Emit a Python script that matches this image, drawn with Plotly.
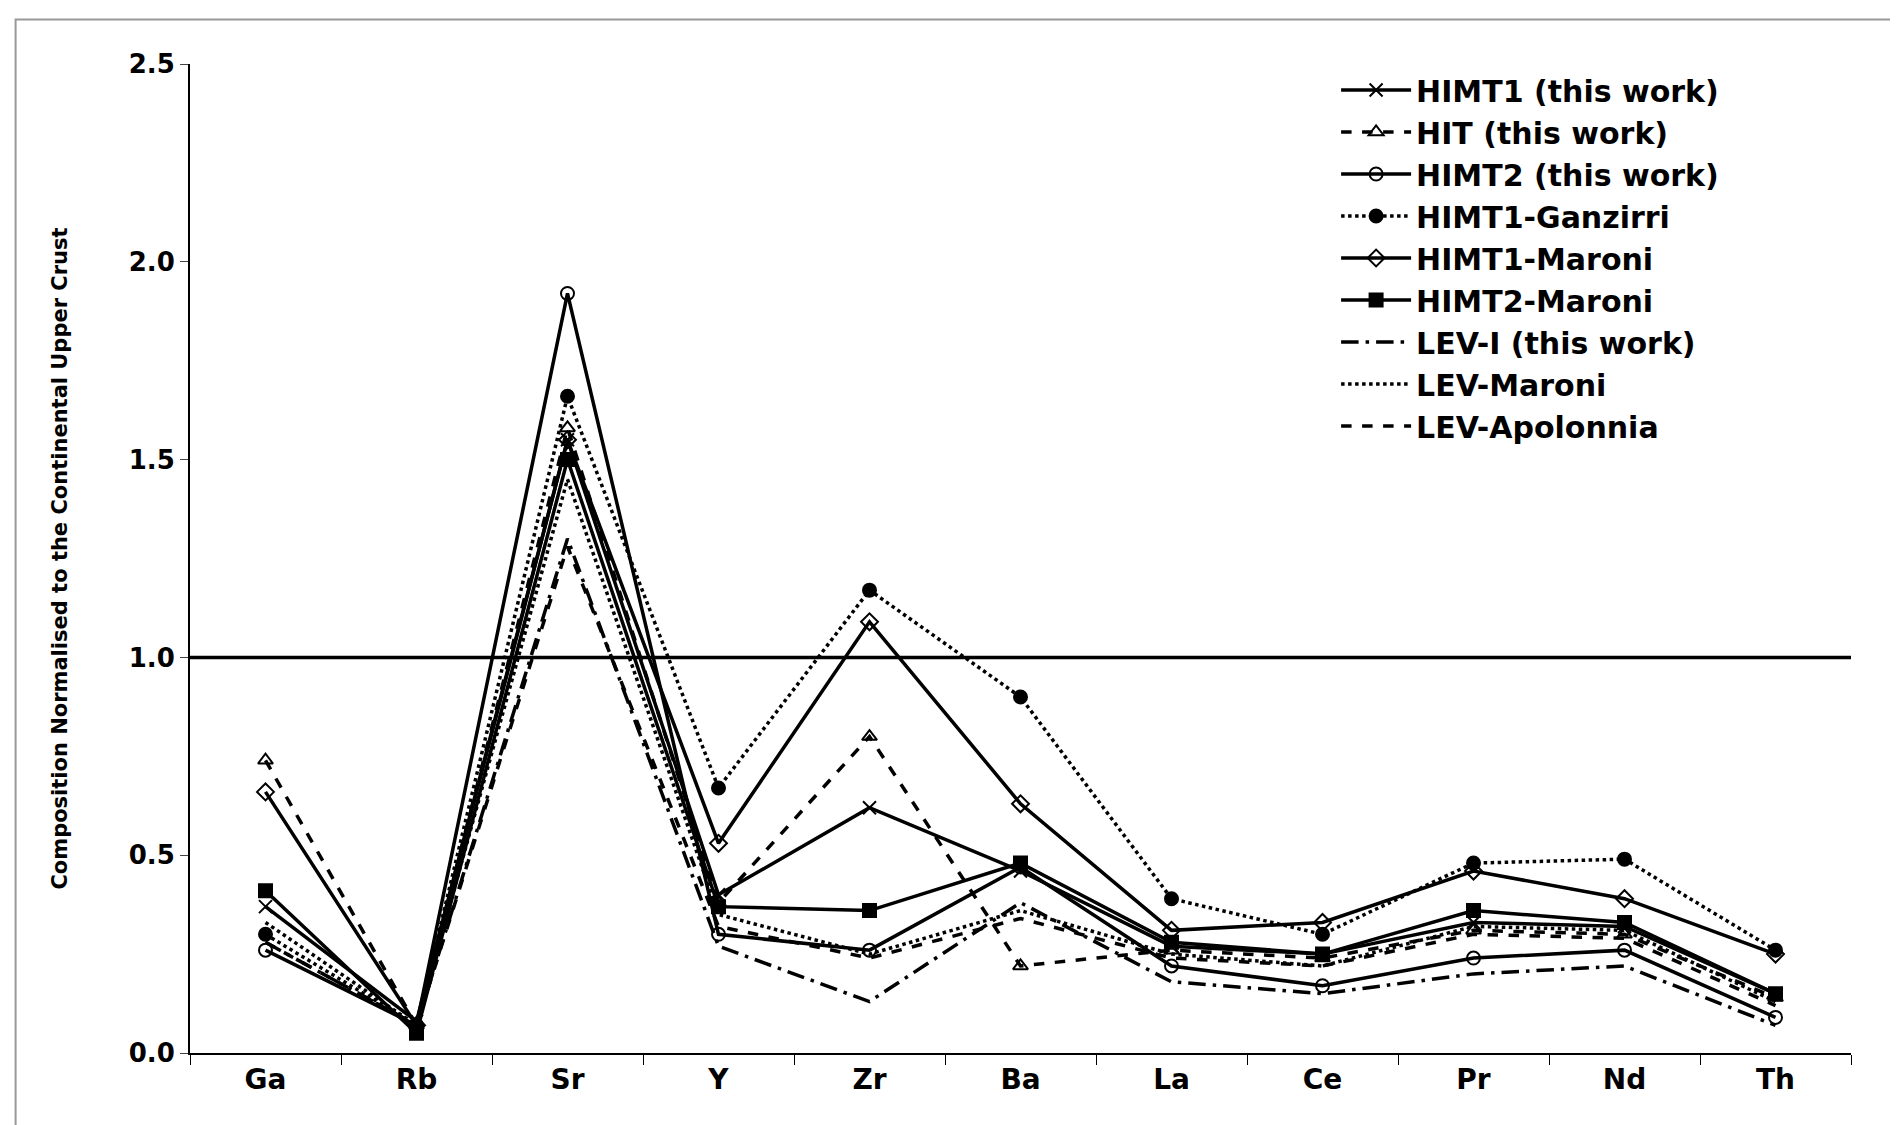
import plotly.graph_objects as go

elements = ["Ga", "Rb", "Sr", "Y", "Zr", "Ba", "La", "Ce", "Pr", "Nd", "Th"]

himt1 = [0.37, 0.08, 1.55, 0.40, 0.62, 0.46, 0.27, 0.25, 0.33, 0.32, 0.15]
hit = [0.74, 0.07, 1.58, 0.38, 0.80, 0.22, 0.26, 0.24, 0.31, 0.30, 0.14]
himt2 = [0.26, 0.07, 1.92, 0.30, 0.26, 0.47, 0.22, 0.17, 0.24, 0.26, 0.09]
himt1_ganzirri = [0.30, 0.07, 1.66, 0.67, 1.17, 0.90, 0.39, 0.30, 0.48, 0.49, 0.26]
himt1_maroni = [0.66, 0.07, 1.55, 0.53, 1.09, 0.63, 0.31, 0.33, 0.46, 0.39, 0.25]
himt2_maroni = [0.41, 0.05, 1.50, 0.37, 0.36, 0.48, 0.28, 0.25, 0.36, 0.33, 0.15]
lev_i = [0.28, 0.07, 1.30, 0.27, 0.13, 0.38, 0.18, 0.15, 0.20, 0.22, 0.07]
lev_maroni = [0.33, 0.07, 1.45, 0.35, 0.25, 0.36, 0.25, 0.22, 0.32, 0.31, 0.13]
lev_apolonnia = [0.28, 0.07, 1.28, 0.32, 0.24, 0.34, 0.24, 0.22, 0.30, 0.29, 0.12]

series = [
    ("HIMT1 (this work)", himt1, "solid", "x-thin"),
    ("HIT (this work)", hit, "dash", "triangle-up-open"),
    ("HIMT2 (this work)", himt2, "solid", "circle-open"),
    ("HIMT1-Ganzirri", himt1_ganzirri, "dot", "circle"),
    ("HIMT1-Maroni", himt1_maroni, "solid", "diamond-open"),
    ("HIMT2-Maroni", himt2_maroni, "solid", "square"),
    ("LEV-I (this work)", lev_i, "longdashdot", None),
    ("LEV-Maroni", lev_maroni, "dot", None),
    ("LEV-Apolonnia", lev_apolonnia, "dash", None),
]

fig = go.Figure()
for name, vals, dash, sym in series:
    t = go.Scatter(x=elements, y=vals, name="<b>" + name + "</b>",
                   line=dict(color="black", width=3.5, dash=dash))
    if sym:
        t.mode = "lines+markers"
        t.marker = dict(symbol=sym, size=13, color="black",
                        line=dict(color="black", width=2))
    else:
        t.mode = "lines"
    fig.add_trace(t)

fig.add_shape(type="line", xref="paper", x0=0, x1=1, y0=1.0, y1=1.0,
              line=dict(color="black", width=3.5))
fig.add_shape(type="rect", xref="paper", yref="paper", x0=-0.105, x1=1.026,
              y0=-0.076, y1=1.045, line=dict(color="#999", width=2))

fig.update_layout(
    width=1898, height=1125,
    paper_bgcolor="white", plot_bgcolor="white",
    margin=dict(l=182, r=55, t=56, b=80),
    font=dict(family="DejaVu Sans", size=24, color="black"),
    showlegend=True,
    legend=dict(x=0.69, y=1.0, xanchor="left", yanchor="top",
                font=dict(family="DejaVu Sans", size=30, color="black"),
                bgcolor="rgba(0,0,0,0)", tracegroupgap=0, itemwidth=70),
    xaxis=dict(type="category", range=[-0.5, 10.5], showline=True,
               linecolor="black", linewidth=2, ticks="outside",
               tickson="boundaries", ticklen=10, tickcolor="black",
               showgrid=False, tickfont=dict(size=28),
               tickprefix="<b>", ticksuffix="</b>"),
    yaxis=dict(range=[0, 2.5], dtick=0.5, tickformat=".1f", showline=True,
               linecolor="black", linewidth=2, ticks="outside", ticklen=8,
               showgrid=False, zeroline=False, tickfont=dict(size=26),
               tickprefix="<b>", ticksuffix="</b>",
               title=dict(text="<b>Composition Normalised to the Continental Upper Crust</b>",
                          font=dict(size=21), standoff=55)),
)

fig.write_html("out.html")
